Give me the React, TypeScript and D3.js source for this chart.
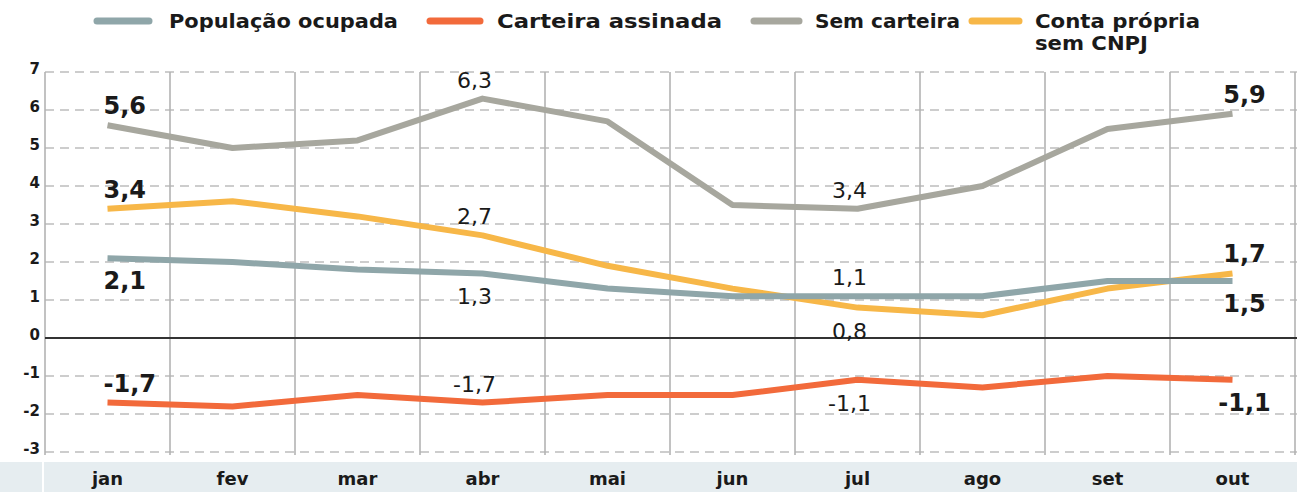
import React from 'react';
import * as d3 from 'd3';

// ---- data ----
const months = ['jan', 'fev', 'mar', 'abr', 'mai', 'jun', 'jul', 'ago', 'set', 'out'];
const populacaoOcupada = [2.1, 2.0, 1.8, 1.7, 1.3, 1.1, 1.1, 1.1, 1.5, 1.5];
const carteiraAssinada = [-1.7, -1.8, -1.5, -1.7, -1.5, -1.5, -1.1, -1.3, -1.0, -1.1];
const semCarteira = [5.6, 5.0, 5.2, 6.3, 5.7, 3.5, 3.4, 4.0, 5.5, 5.9];
const contaPropria = [3.4, 3.6, 3.2, 2.7, 1.9, 1.3, 0.8, 0.6, 1.3, 1.7];
const yTicks = [-3, -2, -1, 0, 1, 2, 3, 4, 5, 6, 7];

const seriesNames = ['População ocupada', 'Carteira assinada', 'Sem carteira', 'Conta própria\nsem CNPJ'];

// labels: series index, month index, text, placement
const labelSeries = [2, 0, 1, 3, 2, 3, 0, 1, 2, 0, 3, 1, 2, 3, 0, 1];
const labelMonth = [0, 0, 0, 0, 3, 3, 3, 3, 6, 6, 6, 6, 9, 9, 9, 9];
const labelText = ['5,6', '2,1', '-1,7', '3,4', '6,3', '2,7', '1,3', '-1,7', '3,4', '1,1', '0,8', '-1,1', '5,9', '1,7', '1,5', '-1,1'];
const labelBelow = [false, true, false, false, false, false, true, false, false, false, true, true, false, false, true, true];

// ---- styles ----
const W = 1297;
const H = 492;
const colors = ['#8fa6a9', '#f26a3b', '#a7a79e', '#f7b748'];
const drawOrder = [2, 3, 0, 1];
const legendSwatchX = [97, 430, 754, 972];
const legendSwatchW = [52, 50, 45, 47];
const legendTextX = [169, 497, 815, 1035];
const legendTextW = [[229], [225], [145], [165, 113]];

export default function App() {
  const allSeries = [populacaoOcupada, carteiraAssinada, semCarteira, contaPropria];
  const x = d3.scaleBand<string>().domain(months).range([45, 1295]).padding(0);
  const bw = x.bandwidth();
  const y = d3.scaleLinear().domain([-3, 7]).range([452, 72]);
  const cx = (i: number) => (x(months[i]) as number) + bw / 2;
  const line = d3
    .line<number>()
    .x((_d, i) => cx(i))
    .y((d) => y(d));

  const boundaries = months.map((m) => x(m) as number).concat([x.range()[1]]);

  return (
    <svg
      width={W}
      height={H}
      style={{ position: 'absolute', left: 0, top: 0, background: '#fff' }}
      fontFamily="'DejaVu Sans', sans-serif"
    >
      {/* legend */}
      {seriesNames.map((name, k) => {
        const lines = name.split('\n');
        return (
          <g key={name}>
            <line
              x1={legendSwatchX[k]}
              x2={legendSwatchX[k] + legendSwatchW[k]}
              y1={21}
              y2={21}
              stroke={colors[k]}
              strokeWidth={7}
              strokeLinecap="round"
            />
            {lines.map((ln, j) => (
              <text
                key={j}
                x={legendTextX[k]}
                y={28 + j * 22}
                fontFamily="'DejaVu Sans', sans-serif"
                fontWeight="bold"
                fontSize={19}
                textLength={legendTextW[k][j]}
                lengthAdjust="spacingAndGlyphs"
                fill="#1a1a1a"
              >
                {ln}
              </text>
            ))}
          </g>
        );
      })}

      {/* horizontal grid */}
      {yTicks.map((t) => (
        <g key={t}>
          {t !== 0 && (
            <line
              x1={45}
              x2={W}
              y1={y(t)}
              y2={y(t)}
              stroke="#bdbdbd"
              strokeWidth={1.3}
              strokeDasharray="9 6"
            />
          )}
          <text
            x={40}
            y={y(t) + 2}
            textAnchor="end"
            fontFamily="'DejaVu Sans', sans-serif"
            fontWeight="bold"
            fontSize={15}
            fill="#1a1a1a"
          >
            {t}
          </text>
        </g>
      ))}

      {/* vertical grid */}
      {boundaries.map((b, i) => (
        <line key={i} x1={b} x2={b} y1={y(7)} y2={y(-3) + 3} stroke="#b3b3b3" strokeWidth={1.6} />
      ))}

      {/* zero line */}
      <line x1={45} x2={W} y1={y(0)} y2={y(0)} stroke="#333" strokeWidth={2} />

      {/* x band */}
      <rect x={0} y={462} width={W} height={H - 462} fill="#e6edf0" />
      <line x1={43} x2={43} y1={462} y2={H} stroke="#fff" strokeWidth={2} />
      {months.map((m, i) => (
        <text
          key={m}
          x={cx(i)}
          y={485}
          textAnchor="middle"
          fontFamily="'DejaVu Sans', sans-serif"
          fontWeight="bold"
          fontSize={18}
          fill="#1a1a1a"
        >
          {m}
        </text>
      ))}

      {/* lines */}
      {drawOrder.map((k) => (
        <path
          key={k}
          d={line(allSeries[k]) as string}
          fill="none"
          stroke={colors[k]}
          strokeWidth={6}
          strokeLinejoin="round"
        />
      ))}

      {/* data labels */}
      {labelText.map((t, n) => {
        const s = labelSeries[n];
        const i = labelMonth[n];
        const bold = i === 0 || i === months.length - 1;
        const px = cx(i);
        const py = y(allSeries[s][i]);
        const ly = labelBelow[n] ? py + 31 : py - 11;
        let lx = px - 8;
        let anchor: 'start' | 'middle' = 'middle';
        if (i === 0) {
          lx = px - 4;
          anchor = 'start';
        } else if (i === months.length - 1) {
          lx = px + 12;
        }
        return (
          <text
            key={n}
            x={lx}
            y={ly}
            textAnchor={anchor}
            fontFamily="'DejaVu Sans', sans-serif"
            fontWeight={bold ? 'bold' : 'normal'}
            fontSize={bold ? 24 : 22}
            fill="#1a1a1a"
          >
            {t}
          </text>
        );
      })}
    </svg>
  );
}
